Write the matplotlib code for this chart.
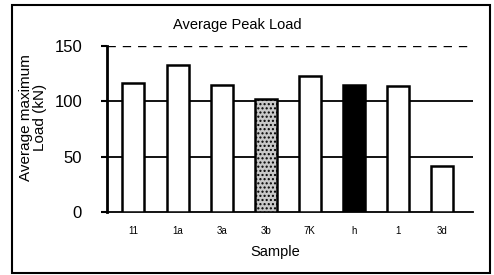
import matplotlib.pyplot as plt
from matplotlib.patches import Rectangle

plt.rcParams['font.family'] = ['Liberation Sans', 'DejaVu Sans']

samples = ['11', '1a', '3a', '3b', '7K', 'h', '1', '3d']
peak_load = [117, 133, 115, 102, 123, 115, 114, 42]
fills = ['white', 'white', 'white', '#c8c8c8', 'white', 'black', 'white', 'white']
hatches = ['', '', '', '....', '', '', '', '']

fig = plt.figure(figsize=(4.94, 2.75), dpi=100)
ax = fig.add_axes([107 / 494, 1 - 212 / 275, 366 / 494, 166 / 275])

x = range(len(samples))
for i in x:
    ax.bar(i, peak_load[i], width=0.5, color=fills[i], edgecolor='black',
           linewidth=1.8, hatch=hatches[i], zorder=3)

ax.axhline(100, color='black', lw=1.3, zorder=1)
ax.axhline(50, color='black', lw=1.3, zorder=1)
ax.axhline(150, color='black', lw=1.0, ls=(0, (6, 5)), zorder=1)

ax.set_xlim(-0.6, 7.7)
ax.set_ylim(0, 150)
ax.set_yticks([0, 50, 100, 150])
ax.set_xticks(list(x))
ax.set_xticklabels(samples, fontsize=7)
ax.tick_params(axis='y', labelsize=12, length=4, width=1.5, pad=14)
ax.tick_params(axis='x', length=0, pad=10)
for s in ['top', 'right']:
    ax.spines[s].set_visible(False)
ax.spines['left'].set_linewidth(2)
ax.spines['bottom'].set_linewidth(1.3)

ax.set_title('Average Peak Load', fontsize=10.5, x=0.355, pad=12)
ax.set_xlabel('Sample', fontsize=10.5, labelpad=8)
ax.xaxis.set_label_coords(0.46, -0.2)
ax.set_ylabel('Average maximum\nLoad (kN)', fontsize=11, linespacing=1.0)
ax.yaxis.set_label_coords(-0.165, 0.57)

fig.patches.append(Rectangle((12 / 494, 2 / 275), 478 / 494, 268 / 275,
                             transform=fig.transFigure, fill=False,
                             edgecolor='black', linewidth=1.5))

fig.savefig('out.png', dpi=100)
